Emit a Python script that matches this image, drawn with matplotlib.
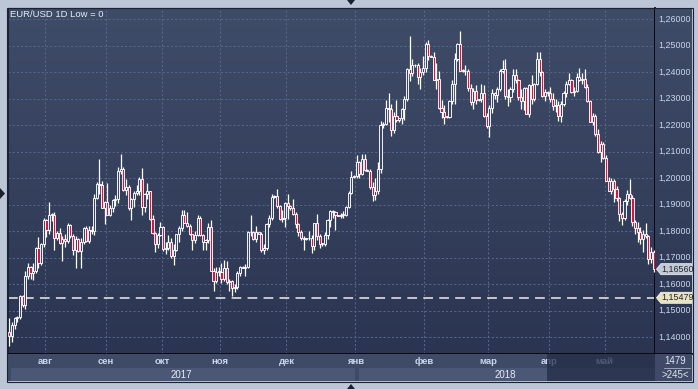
"""EUR/USD daily candlestick chart, Jul 2017 - May 2018, trading-terminal style."""

import matplotlib
matplotlib.use("Agg")
import matplotlib.pyplot as plt
import numpy as np
from matplotlib.colors import LinearSegmentedColormap
from matplotlib.patches import Polygon, Rectangle

plt.rcParams["font.family"] = ["Liberation Sans", "DejaVu Sans"]
plt.rcParams["lines.scale_dashes"] = False

# ---------------------------------------------------------------------------
# Data: daily bars, prices in pips above 1.0000 (1472 -> 1.1472)
# Winter weeks carry a short Sunday session bar.
# ---------------------------------------------------------------------------
opens = [
    # jul
    1420, 1402, 1445, 1470, 1475, 1555, 1520, 1630, 1665, 1640, 1650, 1735, 1680, 1750,
    # aug
    1840, 1802, 1860, 1862, 1774, 1792, 1755, 1770, 1762, 1822, 1780, 1730, 1770, 1725,
    1760, 1810, 1762, 1805, 1800, 1925, 1978, 1973, 1887,
    # sep
    1910, 1860, 1885, 1917, 1920, 2025, 2035, 1955, 1966, 1885, 1920, 1943, 1950, 1995,
    1890, 1940, 1950, 1845, 1793, 1750, 1785,
    # oct
    1815, 1733, 1737, 1760, 1707, 1730, 1790, 1810, 1860, 1830, 1820, 1790, 1765, 1785,
    1850, 1785, 1760, 1765, 1815, 1650, 1610, 1645,
    # nov
    1645, 1620, 1660, 1608, 1610, 1585, 1590, 1640, 1665, 1662, 1665, 1795, 1795, 1770,
    1795, 1790, 1730, 1735, 1825, 1850, 1930, 1932, 1895, 1845, 1850,
    # dec
    1905, 1895, 1885, 1865, 1825, 1795, 1775, 1770, 1772, 1775, 1745, 1830, 1780, 1750,
    1752, 1785, 1840, 1875, 1870, 1860, 1858, 1862, 1860, 1890, 1945, 2005,
    # jan
    2008, 2060, 2015, 2070, 2030, 2028, 1965, 1937, 1950, 2035, 2200, 2205, 2265, 2260,
    2180, 2235, 2220, 2225, 2260, 2300, 2410, 2395, 2425, 2428, 2380, 2400,
    # feb
    2415, 2505, 2460, 2458, 2370, 2375, 2265, 2250, 2230, 2232, 2290, 2355, 2450, 2505,
    2405, 2404, 2402, 2340, 2285, 2330, 2295, 2297, 2320, 2235,
    # mar
    2195, 2265, 2320, 2315, 2335, 2405, 2410, 2310, 2305, 2335, 2390, 2370, 2305, 2290,
    2340, 2240, 2350, 2300, 2355, 2450, 2400, 2310, 2325,
    # apr
    2320, 2300, 2270, 2275, 2235, 2280, 2320, 2355, 2370, 2325, 2330, 2380, 2370, 2375,
    2345, 2290, 2210, 2235, 2165, 2100, 2130,
    # may
    2075, 1990, 1950, 1990, 1960, 1925, 1865, 1850, 1915, 1940, 1925, 1835, 1810, 1795,
    1770, 1790, 1780, 1695, 1720,
]
highs = [
    1472, 1455, 1475, 1480, 1560, 1560, 1650, 1678, 1668, 1680, 1740, 1777, 1755, 1848,
    1845, 1910, 1868, 1870, 1800, 1810, 1780, 1790, 1830, 1826, 1790, 1780, 1775, 1775,
    1815, 1820, 1820, 1820, 1940, 1985, 2070, 1990, 1915,
    1980, 1900, 1920, 1935, 2040, 2092, 2040, 1995, 1975, 1925, 1950, 1975, 2005, 2037,
    1945, 1980, 1950, 1860, 1795, 1792, 1835,
    1820, 1760, 1785, 1775, 1750, 1790, 1820, 1880, 1880, 1870, 1825, 1790, 1800, 1860,
    1855, 1790, 1770, 1830, 1840, 1660, 1665, 1665,
    1680, 1690, 1688, 1620, 1615, 1600, 1650, 1668, 1668, 1675, 1800, 1862, 1800, 1820,
    1797, 1795, 1750, 1830, 1860, 1940, 1935, 1960, 1900, 1880, 1910,
    1940, 1900, 1920, 1870, 1830, 1805, 1780, 1775, 1800, 1785, 1830, 1865, 1790, 1755,
    1795, 1845, 1880, 1880, 1875, 1862, 1868, 1875, 1895, 1950, 2025, 2010,
    2088, 2065, 2090, 2090, 2035, 2035, 1985, 2000, 2060, 2215, 2210, 2295, 2320, 2280,
    2250, 2295, 2228, 2265, 2310, 2415, 2537, 2450, 2430, 2435, 2415, 2460,
    2515, 2520, 2465, 2475, 2435, 2405, 2295, 2275, 2235, 2295, 2370, 2470, 2508, 2555,
    2410, 2425, 2410, 2355, 2340, 2350, 2300, 2355, 2350, 2245,
    2275, 2335, 2325, 2345, 2410, 2445, 2450, 2335, 2345, 2410, 2412, 2375, 2335, 2345,
    2345, 2355, 2390, 2360, 2475, 2476, 2405, 2335, 2330,
    2345, 2320, 2300, 2290, 2290, 2330, 2365, 2395, 2375, 2345, 2395, 2415, 2395, 2410,
    2355, 2295, 2245, 2240, 2185, 2140, 2135,
    2085, 2005, 2000, 1995, 1970, 1930, 1870, 1920, 1955, 1997, 1935, 1840, 1835, 1815,
    1805, 1830, 1785, 1740, 1730,
]
lows = [
    1366, 1380, 1432, 1455, 1468, 1512, 1505, 1620, 1620, 1615, 1640, 1660, 1670, 1740,
    1776, 1790, 1838, 1729, 1765, 1750, 1688, 1740, 1755, 1775, 1710, 1662, 1720, 1660,
    1750, 1760, 1755, 1790, 1785, 1920, 1940, 1885, 1825,
    1860, 1855, 1870, 1895, 1905, 2015, 1950, 1935, 1880, 1840, 1890, 1935, 1935, 1860,
    1870, 1920, 1840, 1790, 1720, 1735, 1780,
    1725, 1715, 1730, 1700, 1670, 1725, 1760, 1800, 1830, 1815, 1785, 1730, 1755, 1780,
    1780, 1730, 1730, 1755, 1650, 1575, 1605, 1630,
    1605, 1610, 1600, 1575, 1555, 1570, 1580, 1630, 1660, 1630, 1660, 1780, 1765, 1760,
    1788, 1720, 1715, 1730, 1815, 1840, 1925, 1885, 1840, 1835, 1815,
    1845, 1880, 1860, 1810, 1780, 1765, 1730, 1765, 1765, 1717, 1730, 1765, 1735, 1745,
    1745, 1770, 1815, 1850, 1805, 1855, 1850, 1850, 1855, 1885, 1940, 2000,
    2000, 2000, 2010, 2025, 2025, 1960, 1915, 1918, 1940, 2020, 2190, 2200, 2210, 2160,
    2170, 2210, 2212, 2205, 2220, 2290, 2365, 2385, 2420, 2355, 2335, 2390,
    2400, 2445, 2455, 2370, 2335, 2260, 2225, 2205, 2225, 2225, 2280, 2280, 2440, 2405,
    2400, 2390, 2330, 2275, 2260, 2280, 2290, 2285, 2230, 2190,
    2155, 2245, 2300, 2285, 2330, 2395, 2300, 2270, 2285, 2325, 2360, 2295, 2260, 2255,
    2240, 2230, 2280, 2290, 2350, 2385, 2305, 2290, 2310,
    2285, 2255, 2250, 2215, 2210, 2270, 2305, 2350, 2320, 2310, 2325, 2365, 2355, 2340,
    2285, 2210, 2200, 2160, 2095, 2060, 2070,
    1990, 1950, 1940, 1910, 1915, 1838, 1822, 1840, 1900, 1920, 1820, 1790, 1760, 1750,
    1720, 1775, 1675, 1680, 1645,
]
closes = [
    1402, 1445, 1470, 1475, 1555, 1520, 1630, 1665, 1640, 1650, 1735, 1680, 1750, 1840,
    1802, 1860, 1862, 1774, 1792, 1755, 1770, 1762, 1822, 1780, 1730, 1770, 1725, 1760,
    1810, 1762, 1805, 1800, 1925, 1978, 1973, 1887, 1910,
    1860, 1885, 1917, 1920, 2025, 2035, 1955, 1966, 1885, 1920, 1943, 1950, 1995, 1890,
    1940, 1950, 1845, 1793, 1750, 1785, 1815,
    1733, 1737, 1760, 1707, 1730, 1790, 1810, 1860, 1830, 1820, 1790, 1765, 1785, 1850,
    1785, 1760, 1765, 1815, 1650, 1610, 1645, 1645,
    1620, 1660, 1608, 1610, 1585, 1590, 1640, 1665, 1662, 1665, 1795, 1795, 1770, 1795,
    1790, 1730, 1735, 1825, 1850, 1930, 1932, 1895, 1845, 1850, 1905,
    1895, 1885, 1865, 1825, 1795, 1775, 1770, 1772, 1775, 1745, 1830, 1780, 1750, 1752,
    1785, 1840, 1875, 1870, 1860, 1858, 1862, 1860, 1890, 1945, 2005, 2008,
    2060, 2015, 2070, 2030, 2028, 1965, 1937, 1950, 2035, 2200, 2205, 2265, 2260, 2180,
    2235, 2220, 2225, 2260, 2300, 2410, 2395, 2425, 2428, 2380, 2400, 2415,
    2505, 2460, 2458, 2370, 2375, 2265, 2250, 2230, 2232, 2290, 2355, 2450, 2505, 2405,
    2404, 2402, 2340, 2285, 2330, 2295, 2297, 2320, 2235, 2195,
    2265, 2320, 2315, 2335, 2405, 2410, 2310, 2305, 2335, 2390, 2370, 2305, 2290, 2340,
    2240, 2350, 2300, 2355, 2450, 2400, 2310, 2325, 2320,
    2300, 2270, 2275, 2235, 2280, 2320, 2355, 2370, 2325, 2330, 2380, 2370, 2375, 2345,
    2290, 2210, 2235, 2165, 2100, 2130, 2075,
    1990, 1950, 1990, 1960, 1925, 1865, 1850, 1915, 1940, 1925, 1835, 1810, 1795, 1770,
    1790, 1780, 1695, 1720, 1656,
]

# First bar index of each month and its label
month_starts = [14, 37, 58, 80, 105, 131, 157, 181, 204, 225]
month_names = ["авг", "сен", "окт", "ноя", "дек", "янв", "фев", "мар", "апр", "май"]
year_labels = ["2017", "2018"]
year_breaks = [0, 131, 244]  # bar index where each year segment starts / ends

price_ticks = [1.14, 1.15, 1.16, 1.17, 1.18, 1.19, 1.20, 1.21, 1.22, 1.23, 1.24, 1.25, 1.26]
low_level = 1.15479
title = "EUR/USD 1D Low = 0"
bar_count_text = "1479"
visible_text = ">245<"

# ---------------------------------------------------------------------------
# Style
# ---------------------------------------------------------------------------
W, H = 698, 389
OUTER_BG = "#bcc6d6"
BG_TOP = "#3f4c68"
BG_BOTTOM = "#2b3552"
GRID = "#58658a"
AXIS_TEXT = "#c9d7ec"
DOWN_FILL = "#e3103c"
UP_FILL = "#3a4663"
TIME_BG = "#3e4a66"
YEAR_BAND = "#4b5875"


def px_axes(fig, x0, y0, x1, y1):
    """Add axes by pixel box (top-left origin)."""
    return fig.add_axes([x0 / W, 1 - y1 / H, (x1 - x0) / W, (y1 - y0) / H])


def gradient(ax):
    cmap = LinearSegmentedColormap.from_list("bg", [BG_BOTTOM, BG_TOP])
    ax.imshow(np.linspace(1, 0, 256).reshape(-1, 1), cmap=cmap, aspect="auto",
              extent=[0, 1, 0, 1], transform=ax.transAxes, zorder=0)


def bare(ax):
    ax.set_xticks([])
    ax.set_yticks([])
    for side in ax.spines:
        ax.spines[side].set_visible(False)


o = 1 + np.array(opens) / 1e4
h = 1 + np.array(highs) / 1e4
l = 1 + np.array(lows) / 1e4
c = 1 + np.array(closes) / 1e4
x = np.arange(len(c))
n = len(c)

y_top = 1.26 + 11 / 2650
y_bot = 1.26 - 335 / 2650

fig = plt.figure(figsize=(W / 100, H / 100), dpi=100)
fig.patch.set_facecolor(OUTER_BG)

# --- Main price panel ---
ax = px_axes(fig, 8, 8, 655, 354)
gradient(ax)
ax.set_xlim(-0.5, n - 0.5)
ax.set_ylim(y_bot, y_top)
ax.set_xticks([])
ax.set_yticks([])
for side in ["left", "top"]:
    ax.spines[side].set_color("#1c2233")
for side in ["right", "bottom"]:
    ax.spines[side].set_color("#05070c")
    ax.spines[side].set_linewidth(1.3)

for p in price_ticks:
    ax.axhline(p, color=GRID, lw=0.75, ls=(0, (1.5, 1.5)), zorder=1)
for m in month_starts:
    ax.axvline(m - 0.5, color=GRID, lw=0.75, ls=(0, (1.5, 1.5)), zorder=1)

ax.axhline(low_level, color="#eeeeee", lw=1.1, ls=(0, (7, 4.5)), zorder=2)

up = c >= o
ax.vlines(x, l, h, color="white", lw=0.9, zorder=3)
ax.bar(x, np.maximum(np.abs(c - o), 0.0003), bottom=np.minimum(o, c), width=0.8,
       color=np.where(up, UP_FILL, DOWN_FILL), edgecolor="white", linewidth=0.65, zorder=4)

ax.text(2 / 647, 1 - 6.5 / 346, title, transform=ax.transAxes, color="#e8edf5",
        fontsize=6.8, va="center", ha="left")

# --- Right price axis ---
rax = px_axes(fig, 655, 8, 692, 354)
gradient(rax)
rax.set_xlim(0, 1)
rax.set_ylim(y_bot, y_top)
bare(rax)
rax.spines["bottom"].set_visible(True)
rax.spines["bottom"].set_color("#05070c")
rax.spines["bottom"].set_linewidth(1.3)
for p in price_ticks:
    rax.text(3 / 37, p, f"{p:.5f}".replace(".", ","), color=AXIS_TEXT,
             fontsize=6.4, va="center", ha="left")

tag_h = 5.5 / 2650
for val, fc, ec in [(c[-1], "#c4cad5", "#e4e8ee"), (low_level, "#e8e3c2", "#f6f2dc")]:
    pts = [(0.04, val), (0.16, val + tag_h), (1.0, val + tag_h),
           (1.0, val - tag_h), (0.16, val - tag_h)]
    rax.add_patch(Polygon(pts, closed=True, facecolor=fc, edgecolor=ec, lw=0.6, zorder=5))
    rax.text(0.17, val, f"{val:.5f}".replace(".", ","), color="#20242c",
             fontsize=6.4, va="center", ha="left", zorder=6)

# --- Time axis ---
tax = px_axes(fig, 8, 354, 655, 381)
tax.set_facecolor(TIME_BG)
tax.set_xlim(-0.5, n - 0.5)
tax.set_ylim(0, 27)
bare(tax)

band_gap = 1.2
for i, lab in enumerate(year_labels):
    start = year_breaks[i] - 0.5 + band_gap
    end = year_breaks[i + 1] - 0.5
    tax.add_patch(Rectangle((start, 0), end - start, 13, facecolor=YEAR_BAND,
                            edgecolor="none", zorder=1))
    mid = (year_breaks[i] + year_breaks[i + 1] - 1) / 2
    tax.text(mid, 6.5, lab, color="#e6ecf5", fontsize=7, ha="center", va="center", zorder=2)

for m, name in zip(month_starts, month_names):
    tax.text(m - 0.5, 19, name, color=AXIS_TEXT, fontsize=6.8, fontweight="bold",
             ha="center", va="center", zorder=2)

# Darker "current period" overlay at the right end of the time axis
tax.add_patch(Rectangle((202.8, 0), n - 0.5 - 202.8, 27, facecolor="#222b44",
                        alpha=0.72, edgecolor="none", zorder=3))

# --- Bottom-right counter box ---
bax = px_axes(fig, 655, 354, 692, 381)
bax.set_facecolor(TIME_BG)
bax.set_xlim(0, 1)
bax.set_ylim(0, 27)
bare(bax)
bax.text(0.55, 20, bar_count_text, color="#dfe6f0", fontsize=7, ha="center", va="center")
bax.plot([0.25, 0.95], [13.5, 13.5], color="#aab4c6", lw=0.6)
bax.text(0.55, 6.5, visible_text, color="#dfe6f0", fontsize=7, ha="center", va="center")

# Panel frame
fig.patches.append(Rectangle((7.5 / W, 1 - 381.5 / H), 685 / W, 374 / H, fill=False,
                             edgecolor="#1c2233", lw=0.8, transform=fig.transFigure))

# Splitter arrows
arrow_col = "#1b2130"
for pts in [
    [(347, 0), (355, 0), (351, 5)],
    [(347, 389), (355, 389), (351, 384)],
    [(0, 188), (0, 199), (5, 193.5)],
]:
    fig.patches.append(Polygon([(px / W, 1 - py / H) for px, py in pts], closed=True,
                               facecolor=arrow_col, edgecolor="none",
                               transform=fig.transFigure))

fig.savefig("out.png", dpi=100, facecolor=fig.get_facecolor())
plt.close(fig)
